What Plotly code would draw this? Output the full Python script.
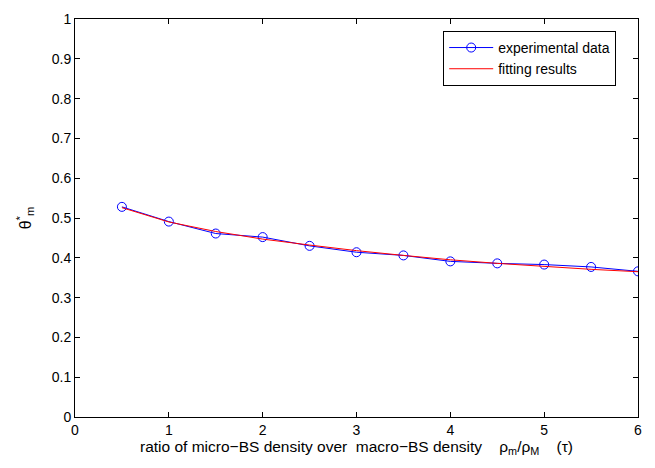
import plotly.graph_objects as go

# datos
tau = [0.5, 1, 1.5, 2, 2.5, 3, 3.5, 4, 4.5, 5, 5.5, 6]
theta_exp = [0.528, 0.491, 0.461, 0.452, 0.430, 0.414, 0.406, 0.391, 0.386, 0.383, 0.377, 0.366]
theta_fit = [0.526, 0.490, 0.466, 0.447, 0.432, 0.418, 0.406, 0.395, 0.386, 0.378, 0.371, 0.365]

fig = go.Figure()

fig.add_trace(go.Scatter(
    x=tau, y=theta_exp, mode='lines+markers', name='experimental data',
    line=dict(color='#0000ff', width=1),
    marker=dict(symbol='circle-open', size=9, color='#0000ff', line=dict(width=1))
))
fig.add_trace(go.Scatter(
    x=tau, y=theta_fit, mode='lines', name='fitting results',
    line=dict(color='#ff0000', width=1)
))

ax = dict(
    showgrid=False, zeroline=False, showline=True, linecolor='black', linewidth=1,
    mirror='ticks', ticks='inside', ticklen=5, tickcolor='black',
    tickfont=dict(size=14, color='black')
)

sp = '\u00a0'
xtitulo = ('ratio of micro\u2212BS density over' + sp * 2 + 'macro\u2212BS density' + sp * 4
           + '\u03c1<sub>m</sub>/\u03c1<sub>M</sub>' + sp * 4 + '(\u03c4)')

fig.update_xaxes(
    range=[0, 6], dtick=1,
    title=dict(text=xtitulo, font=dict(size=15.5, color='black'), standoff=2),
    **ax
)
fig.update_yaxes(
    range=[0, 1], dtick=0.1, tickformat='.1~f',
    title=dict(text='\u03b8<sup>*</sup><sub>m</sub>', font=dict(size=16, color='black'), standoff=16),
    **ax
)

fig.update_layout(
    width=655, height=468,
    margin=dict(l=75, r=17, t=11, b=51),
    plot_bgcolor='white', paper_bgcolor='white',
    font=dict(family='Liberation Sans, Arial, sans-serif', color='black'),
    legend=dict(x=0.654, y=0.97, xanchor='left', yanchor='top',
                bordercolor='black', borderwidth=1, bgcolor='white',
                font=dict(size=14), tracegroupgap=0, itemwidth=44)
)

# quitar el margen del body para que el grafico quede en (0,0)
fig.write_html("out.html", config={'displayModeBar': False},
               post_script="document.body.style.margin='0';")
